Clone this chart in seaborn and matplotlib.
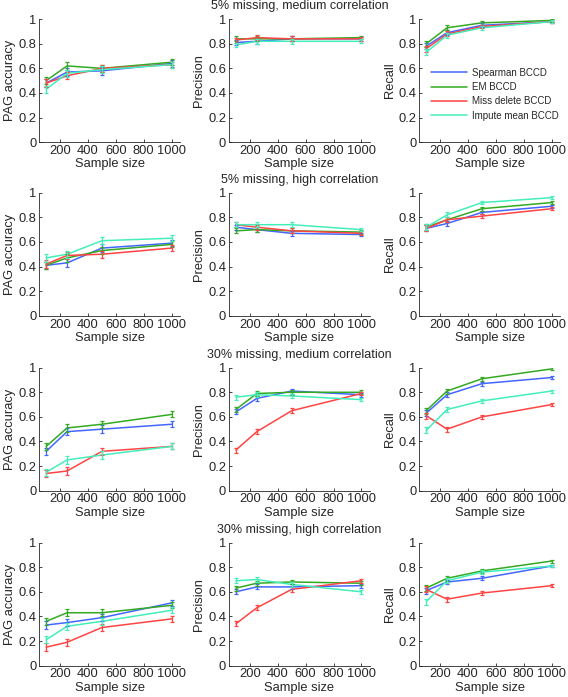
import numpy as np
import pandas as pd
import matplotlib
matplotlib.use("Agg")
import matplotlib.pyplot as plt
import seaborn as sns

# Sample sizes and methods
sample_sizes = [100, 250, 500, 1000]
methods = ["Spearman BCCD", "EM BCCD", "Miss delete BCCD", "Impute mean BCCD"]
colors = ["#4466ff", "#33aa22", "#ff4444", "#44eebb"]
row_titles = ["5% missing, medium correlation", "5% missing, high correlation",
              "30% missing, medium correlation", "30% missing, high correlation"]
metrics = ["PAG accuracy", "Precision", "Recall"]

# values per panel -> one list per method (Spearman, EM, Miss delete, Impute mean)
r1_pag = [[0.48, 0.57, 0.58, 0.64], [0.50, 0.62, 0.60, 0.65], [0.48, 0.54, 0.60, 0.63], [0.43, 0.56, 0.59, 0.63]]
r1_prec = [[0.81, 0.82, 0.84, 0.84], [0.84, 0.84, 0.84, 0.85], [0.83, 0.85, 0.84, 0.84], [0.79, 0.82, 0.82, 0.82]]
r1_rec = [[0.78, 0.89, 0.95, 0.98], [0.80, 0.93, 0.97, 0.99], [0.76, 0.88, 0.94, 0.98], [0.73, 0.87, 0.93, 0.98]]

r2_pag = [[0.41, 0.43, 0.55, 0.59], [0.41, 0.47, 0.53, 0.58], [0.42, 0.49, 0.50, 0.55], [0.47, 0.50, 0.61, 0.63]]
r2_prec = [[0.72, 0.70, 0.67, 0.66], [0.69, 0.70, 0.69, 0.68], [0.74, 0.72, 0.69, 0.67], [0.74, 0.74, 0.74, 0.70]]
r2_rec = [[0.71, 0.75, 0.84, 0.89], [0.72, 0.78, 0.87, 0.92], [0.71, 0.78, 0.81, 0.87], [0.72, 0.82, 0.92, 0.96]]

r3_pag = [[0.32, 0.48, 0.50, 0.54], [0.36, 0.51, 0.54, 0.62], [0.14, 0.16, 0.32, 0.36], [0.15, 0.25, 0.29, 0.36]]
r3_prec = [[0.64, 0.75, 0.81, 0.78], [0.66, 0.79, 0.80, 0.80], [0.33, 0.48, 0.65, 0.79], [0.76, 0.78, 0.77, 0.74]]
r3_rec = [[0.63, 0.78, 0.87, 0.92], [0.65, 0.81, 0.91, 0.99], [0.61, 0.50, 0.60, 0.70], [0.49, 0.66, 0.73, 0.81]]

r4_pag = [[0.33, 0.35, 0.39, 0.51], [0.36, 0.43, 0.43, 0.49], [0.15, 0.19, 0.31, 0.38], [0.21, 0.32, 0.36, 0.45]]
r4_prec = [[0.60, 0.64, 0.64, 0.65], [0.63, 0.67, 0.68, 0.67], [0.34, 0.47, 0.62, 0.69], [0.69, 0.70, 0.66, 0.60]]
r4_rec = [[0.61, 0.68, 0.71, 0.81], [0.63, 0.71, 0.77, 0.85], [0.62, 0.54, 0.59, 0.65], [0.52, 0.69, 0.76, 0.81]]

# approximate error bar half-widths per sample size
err_pag = [0.03, 0.03, 0.03, 0.025]
err_prec = [0.02, 0.02, 0.02, 0.015]
err_rec = [0.025, 0.02, 0.015, 0.012]

panels = [
    [r1_pag, r1_prec, r1_rec],
    [r2_pag, r2_prec, r2_rec],
    [r3_pag, r3_prec, r3_rec],
    [r4_pag, r4_prec, r4_rec],
]
errs = [err_pag, err_prec, err_rec]

sns.set_style("ticks")
plt.rcParams["font.family"] = ["Liberation Sans", "DejaVu Sans"]
fs = 9.3

fig = plt.figure(figsize=(5.68, 6.97), dpi=100)

col_left = [0.069, 0.403, 0.738]
row_bottom = [0.796, 0.547, 0.296, 0.045]
w, h = 0.248, 0.1765

for r in range(4):
    for c in range(3):
        ax = fig.add_axes([col_left[c], row_bottom[r], w, h])
        vals = panels[r][c]
        df = pd.DataFrame({
            "size": np.tile(sample_sizes, len(methods)),
            "value": np.concatenate(vals),
            "method": np.repeat(methods, len(sample_sizes)),
        })
        sns.lineplot(data=df, x="size", y="value", hue="method", hue_order=methods,
                     palette=colors, linewidth=1.1, ax=ax, legend=False)
        for m, col in zip(range(len(methods)), colors):
            ax.errorbar(sample_sizes, vals[m], yerr=errs[c], fmt="none", ecolor=col,
                        elinewidth=0.9, capsize=1.5, capthick=0.9)
        ax.set_xlim(50, 1060)
        ax.set_ylim(0, 1)
        ax.set_xticks([200, 400, 600, 800, 1000])
        ax.set_yticks([0, 0.2, 0.4, 0.6, 0.8, 1])
        ax.set_yticklabels(["0", "0.2", "0.4", "0.6", "0.8", "1"])
        ax.tick_params(direction="in", length=2.5, width=0.6, labelsize=fs, pad=2)
        ax.set_xlabel("Sample size", fontsize=fs, labelpad=1)
        ax.set_ylabel(metrics[c], fontsize=fs, labelpad=2)
        sns.despine(ax=ax)
        for s in ["left", "bottom"]:
            ax.spines[s].set_linewidth(0.6)
        if c == 1:
            ax.set_title(row_titles[r], fontsize=9, pad=7)
        if r == 0 and c == 2:
            handles = [plt.Line2D([], [], color=col, linewidth=1.1) for col in colors]
            ax.legend(handles, methods, loc="center right", bbox_to_anchor=(1.05, 0.39),
                      frameon=False, fontsize=7, handlelength=3.7, labelspacing=0.45,
                      handletextpad=0.5)

fig.savefig("out.png", dpi=100)
